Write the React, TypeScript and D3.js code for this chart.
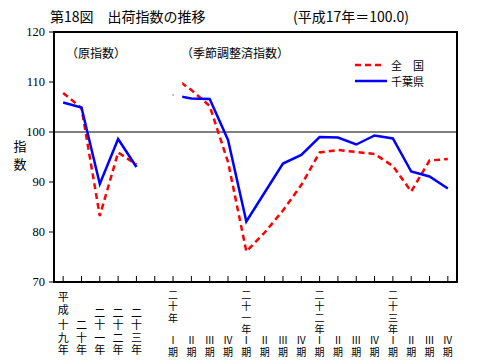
import React from "react";
import * as d3 from "d3";

// ---- data ----
const annualKeys = ["H19", "H20", "H21", "H22", "H23"];
const annualLabelTop = ["平成", "", "", "", ""];
const annualLabelBottom = ["十九年", "二十年", "二十一年", "二十二年", "二十三年"];
const annualNational = [107.8, 104.8, 83.2, 95.9, 93.5];
const annualChiba = [105.9, 104.9, 89.6, 98.6, 93.0];

const quarterKeys = [
  "H20Q1", "H20Q2", "H20Q3", "H20Q4",
  "H21Q1", "H21Q2", "H21Q3", "H21Q4",
  "H22Q1", "H22Q2", "H22Q3", "H22Q4",
  "H23Q1", "H23Q2", "H23Q3", "H23Q4",
];
const quarterYearLabels = ["二十年", "", "", "", "二十一年", "", "", "", "二十二年", "", "", "", "二十三年", "", "", ""];
const quarterNames = ["Ⅰ", "Ⅱ", "Ⅲ", "Ⅳ", "Ⅰ", "Ⅱ", "Ⅲ", "Ⅳ", "Ⅰ", "Ⅱ", "Ⅲ", "Ⅳ", "Ⅰ", "Ⅱ", "Ⅲ", "Ⅳ"];
const quarterNational = [111.0, 108.4, 105.2, 94.0, 76.1, 79.9, 84.3, 89.4, 95.9, 96.4, 96.0, 95.6, 93.2, 88.1, 94.3, 94.6];
const quarterChiba = [107.4, 106.7, 106.6, 98.4, 82.1, 87.9, 93.7, 95.4, 99.0, 98.9, 97.5, 99.3, 98.7, 92.1, 91.1, 88.7];

const yTicks = [70, 80, 90, 100, 110, 120];
const allKeys = [...annualKeys, "gap", ...quarterKeys];

const W = 480, H = 363;
const left = 54, right = 457, top = 32, bottom = 282;

const CJK = "'Noto Sans CJK JP', sans-serif";
const TIGHT = "'Liberation Sans', 'Noto Sans CJK JP', sans-serif";
const SERIF = "'Liberation Serif', 'DejaVu Serif', serif";

export default function App() {
  const x = d3.scalePoint<string>().domain(allKeys).range([left, right]).padding(0.5);
  const y = d3.scaleLinear().domain([70, 120]).range([bottom, top]);
  const line = d3.line<[string, number]>().x((d) => x(d[0])!).y((d) => y(d[1]));

  const annN = annualKeys.map((k, i) => [k, annualNational[i]] as [string, number]);
  const annC = annualKeys.map((k, i) => [k, annualChiba[i]] as [string, number]);
  const qN = quarterKeys.map((k, i) => [k, quarterNational[i]] as [string, number]);
  const qC = quarterKeys.map((k, i) => [k, quarterChiba[i]] as [string, number]);

  const clipStart = (x(quarterKeys[0])! + x(quarterKeys[1])!) / 2;

  return (
    <div style={{ position: "absolute", left: 0, top: 0 }}>
      <svg width={W} height={H} style={{ display: "block", background: "#fff" }}>
        <defs>
          <clipPath id="qclip">
            <rect x={clipStart} y={0} width={W} height={H} />
          </clipPath>
        </defs>
        {/* titles */}
        <text x={50} y={16} fontSize={14} fontFamily={CJK} dominantBaseline="central">第18図　出荷指数の推移</text>
        <text x={293} y={16} fontSize={14} fontFamily={CJK} dominantBaseline="central">(平成17年＝100.0)</text>

        {/* y axis title */}
        <text x={20} y={145} fontSize={13} fontFamily={CJK} textAnchor="middle" dominantBaseline="central">指</text>
        <text x={20} y={163} fontSize={13} fontFamily={CJK} textAnchor="middle" dominantBaseline="central">数</text>

        {/* y ticks */}
        {yTicks.map((t) => (
          <g key={t}>
            <line x1={left - 5} x2={left} y1={y(t)} y2={y(t)} stroke="#000" strokeWidth={1} />
            <text x={45} y={y(t)} fontSize={12.5} fontFamily={SERIF} textAnchor="end" dominantBaseline="central">{t}</text>
          </g>
        ))}

        {/* reference line at 100 */}
        <line x1={left} x2={right} y1={y(100)} y2={y(100)} stroke="#000" strokeWidth={1} />

        {/* x ticks */}
        {allKeys.map((k) => (
          <line key={k} x1={x(k)} x2={x(k)} y1={bottom} y2={bottom - 6} stroke="#000" strokeWidth={1} />
        ))}

        {/* section labels */}
        <text x={66} y={52} fontSize={12} fontFamily={CJK} dominantBaseline="central">（原指数）</text>
        <text x={181} y={52} fontSize={12} fontFamily={CJK} dominantBaseline="central">（季節調整済指数）</text>

        {/* annual lines */}
        <path d={line(annN)!} fill="none" stroke="#ff0000" strokeWidth={2.5} strokeDasharray="6,4" />
        <path d={line(annC)!} fill="none" stroke="#0000ff" strokeWidth={2.5} />

        {/* quarterly lines */}
        <g clipPath="url(#qclip)">
          <path d={line(qN)!} fill="none" stroke="#ff0000" strokeWidth={2.5} strokeDasharray="6,4" />
          <path d={line(qC)!} fill="none" stroke="#0000ff" strokeWidth={2.5} />
        </g>
        <circle cx={x(quarterKeys[0])} cy={y(quarterChiba[0])} r={0.8} fill="#6666ff" />

        {/* frame */}
        <rect x={left} y={top} width={right - left} height={bottom - top} fill="none" stroke="#000" strokeWidth={2} />

        {/* legend */}
        <line x1={355} x2={383} y1={65} y2={65} stroke="#ff0000" strokeWidth={2.5} strokeDasharray="6,4" />
        <text x={391} y={65} fontSize={11} fontFamily={CJK} dominantBaseline="central">全　国</text>
        <line x1={355} x2={387} y1={81} y2={81} stroke="#0000ff" strokeWidth={2.5} />
        <text x={391} y={81} fontSize={11} fontFamily={CJK} dominantBaseline="central">千葉県</text>

        {/* annual x labels */}
        {annualKeys.map((k, i) => {
          const cx = x(k)!;
          const topChars = Array.from(annualLabelTop[i]);
          const botChars = Array.from(annualLabelBottom[i]);
          return (
            <g key={k} fontSize={11} fontFamily={TIGHT} textAnchor="middle">
              {topChars.map((c, j) => (
                <text key={"t" + j} x={cx} y={297 + j * 13} dominantBaseline="central">{c}</text>
              ))}
              {botChars.map((c, j) => (
                <text key={"b" + j} x={cx} y={350 - (botChars.length - 1 - j) * 12.5} dominantBaseline="central">{c}</text>
              ))}
            </g>
          );
        })}

        {/* quarterly x labels */}
        {quarterKeys.map((k, i) => {
          const cx = x(k)!;
          const yc = Array.from(quarterYearLabels[i]);
          return (
            <g key={k} fontSize={10} fontFamily={TIGHT} textAnchor="middle">
              {yc.map((c, j) => (
                <text key={"y" + j} x={cx} y={295.5 + j * 11.3} dominantBaseline="central">{c}</text>
              ))}
              <text x={cx} y={340} dominantBaseline="central">{quarterNames[i]}</text>
              <text x={cx} y={352} dominantBaseline="central">期</text>
            </g>
          );
        })}
      </svg>
    </div>
  );
}
